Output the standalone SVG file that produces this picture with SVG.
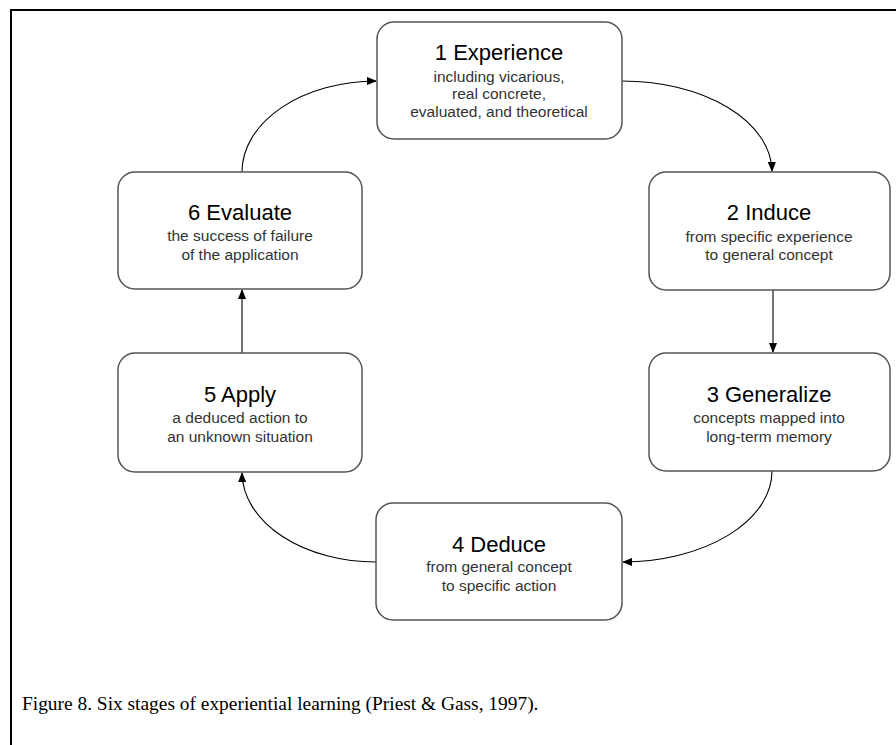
<svg xmlns="http://www.w3.org/2000/svg" width="896" height="745" viewBox="0 0 896 745">
<defs>
<marker id="ah" markerWidth="10" markerHeight="8" refX="9" refY="4" orient="auto" markerUnits="userSpaceOnUse">
<path d="M0,0 L10,4 L0,8 Z" fill="#000"/>
</marker>
<style>
.box{fill:#fff;stroke:#555;stroke-width:1.5}
.t{font-family:"Liberation Sans",Arial,sans-serif;font-size:22px;fill:#000;text-anchor:middle}
.s{font-family:"Liberation Sans",Arial,sans-serif;font-size:15.5px;fill:#333;text-anchor:middle}
.c{fill:none;stroke:#000;stroke-width:1.1}
.cap{font-family:"Liberation Serif","Times New Roman",serif;font-size:19.4px;fill:#000}
</style>
</defs>
<rect width="896" height="745" fill="#fff"/>
<path d="M11,745 V10 H896" fill="none" stroke="#000" stroke-width="2"/>
<g id="connectors">
<path class="c" d="M622,81 A150,91 0 0 1 772,171" marker-end="url(#ah)"/>
<path class="c" d="M773,290 V352" marker-end="url(#ah)"/>
<path class="c" d="M772,471 A150,91 0 0 1 623,562" marker-end="url(#ah)"/>
<path class="c" d="M376,562 A134,90 0 0 1 242,473" marker-end="url(#ah)"/>
<path class="c" d="M242,353 V290" marker-end="url(#ah)"/>
<path class="c" d="M242,172 A135,91 0 0 1 376,81" marker-end="url(#ah)"/>
</g>
<g id="n1">
<rect class="box" x="377" y="22" width="245" height="117" rx="17"/>
<text class="t" x="499" y="60">1 Experience</text>
<text class="s" x="499" y="82">including vicarious,</text>
<text class="s" x="499" y="99">real concrete,</text>
<text class="s" x="499" y="117">evaluated, and theoretical</text>
</g>
<g id="n2">
<rect class="box" x="649" y="172" width="241" height="118" rx="17"/>
<text class="t" x="769" y="220">2 Induce</text>
<text class="s" x="769" y="242">from specific experience</text>
<text class="s" x="769" y="260">to general concept</text>
</g>
<g id="n3">
<rect class="box" x="649" y="353" width="241" height="118" rx="17"/>
<text class="t" x="769" y="402">3 Generalize</text>
<text class="s" x="769" y="423">concepts mapped into</text>
<text class="s" x="769" y="442">long-term memory</text>
</g>
<g id="n4">
<rect class="box" x="376" y="503" width="246" height="117" rx="17"/>
<text class="t" x="499" y="552">4 Deduce</text>
<text class="s" x="499" y="572">from general concept</text>
<text class="s" x="499" y="591">to specific action</text>
</g>
<g id="n5">
<rect class="box" x="118" y="353" width="244" height="119" rx="17"/>
<text class="t" x="240" y="402">5 Apply</text>
<text class="s" x="240" y="423">a deduced action to</text>
<text class="s" x="240" y="442">an unknown situation</text>
</g>
<g id="n6">
<rect class="box" x="118" y="172" width="244" height="117" rx="17"/>
<text class="t" x="240" y="220">6 Evaluate</text>
<text class="s" x="240" y="241">the success of failure</text>
<text class="s" x="240" y="260">of the application</text>
</g>
<text class="cap" x="22" y="710">Figure 8. Six stages of experiential learning (Priest &amp; Gass, 1997).</text>
</svg>
